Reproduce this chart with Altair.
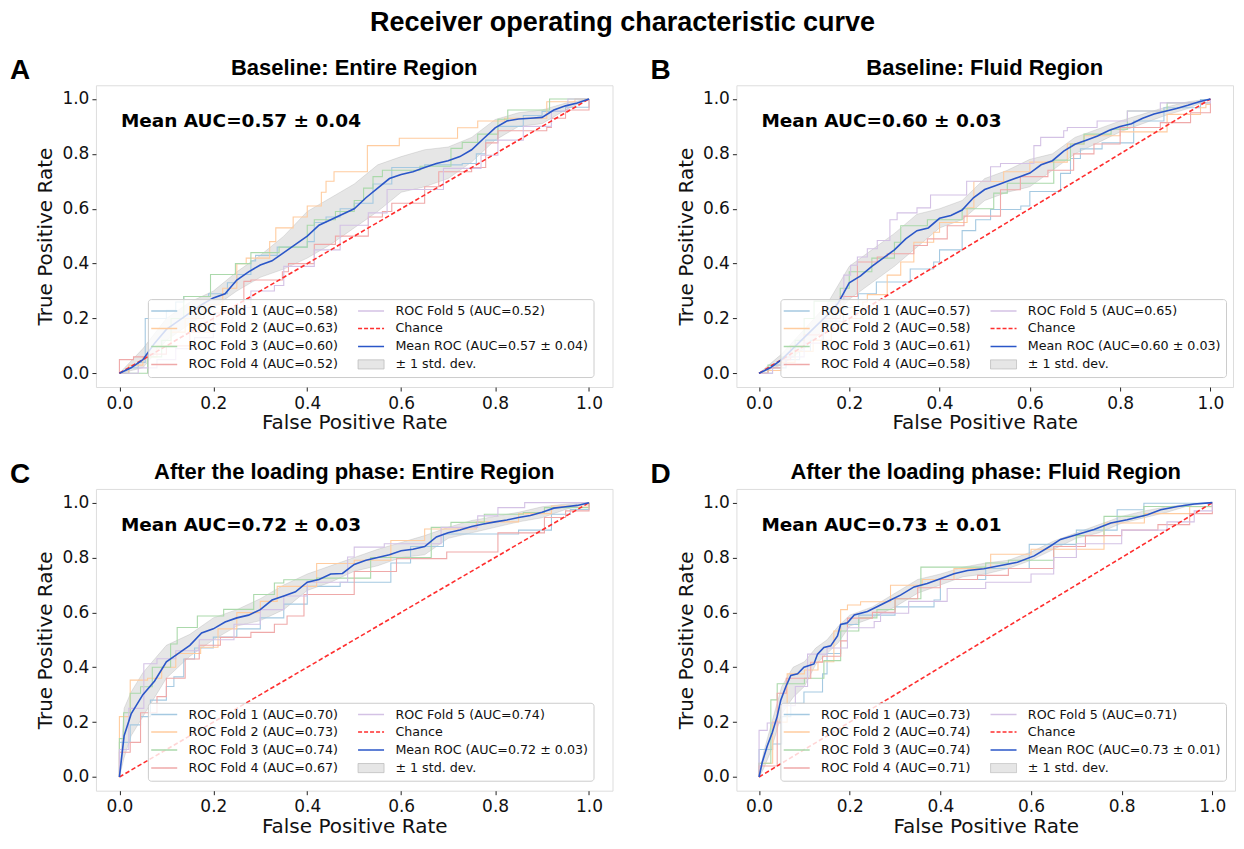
import altair as alt
import pandas as pd

# ------------------------------------------------------------------ data
TITLE = "Receiver operating characteristic curve"
LETTERS = ["A", "B", "C", "D"]
PANEL_TITLES = ["Baseline: Entire Region", "Baseline: Fluid Region",
                "After the loading phase: Entire Region", "After the loading phase: Fluid Region"]
FOLD_AUC = [[0.58, 0.63, 0.60, 0.52, 0.52],
            [0.57, 0.58, 0.61, 0.58, 0.65],
            [0.70, 0.73, 0.74, 0.67, 0.74],
            [0.73, 0.74, 0.74, 0.71, 0.71]]
MEAN_AUC = [0.57, 0.60, 0.72, 0.73]
STD_AUC = [0.04, 0.03, 0.03, 0.01]

# ---- Panel A folds (step corners: fpr, tpr)
A_F1_X = [0, 0.02, 0.04, 0.055, 0.055, 0.10, 0.12, 0.137, 0.19, 0.23, 0.25, 0.28, 0.29, 0.336, 0.40, 0.415, 0.44, 0.47, 0.50, 0.54, 0.58, 0.65, 0.73, 0.76, 0.78, 0.806, 0.86, 0.90, 0.95, 1.0]
A_F1_Y = [0, 0.02, 0.04, 0.08, 0.20, 0.23, 0.26, 0.28, 0.29, 0.33, 0.36, 0.41, 0.43, 0.46, 0.48, 0.55, 0.57, 0.60, 0.62, 0.69, 0.75, 0.76, 0.765, 0.80, 0.85, 0.90, 0.94, 0.955, 0.97, 1.0]
A_F2_X = [0, 0.02, 0.05, 0.08, 0.11, 0.14, 0.18, 0.22, 0.25, 0.27, 0.32, 0.333, 0.37, 0.40, 0.43, 0.44, 0.457, 0.528, 0.596, 0.72, 0.763, 0.82, 0.91, 0.97, 1.0]
A_F2_Y = [0, 0.03, 0.06, 0.10, 0.15, 0.20, 0.25, 0.31, 0.40, 0.42, 0.48, 0.53, 0.57, 0.61, 0.66, 0.70, 0.735, 0.83, 0.857, 0.895, 0.92, 0.93, 0.99, 1.0, 1.0]
A_F3_X = [0, 0.038, 0.06, 0.09, 0.11, 0.137, 0.194, 0.247, 0.28, 0.34, 0.40, 0.415, 0.46, 0.50, 0.52, 0.54, 0.56, 0.64, 0.706, 0.73, 0.763, 0.806, 0.827, 0.916, 1.0]
A_F3_Y = [0, 0.0, 0.06, 0.12, 0.20, 0.28, 0.36, 0.40, 0.44, 0.46, 0.54, 0.56, 0.59, 0.63, 0.675, 0.717, 0.74, 0.755, 0.82, 0.842, 0.872, 0.926, 0.96, 1.0, 1.0]
A_F4_X = [0, 0.0, 0.03, 0.06, 0.10, 0.15, 0.20, 0.265, 0.28, 0.347, 0.36, 0.415, 0.46, 0.53, 0.56, 0.58, 0.65, 0.68, 0.75, 0.78, 0.806, 0.91, 0.92, 0.95, 1.0]
A_F4_Y = [0, 0.05, 0.06, 0.07, 0.10, 0.15, 0.22, 0.335, 0.34, 0.37, 0.40, 0.47, 0.50, 0.57, 0.59, 0.62, 0.68, 0.735, 0.75, 0.84, 0.884, 0.896, 0.93, 0.96, 1.0]
A_F5_X = [0, 0.04, 0.08, 0.12, 0.16, 0.20, 0.24, 0.28, 0.33, 0.35, 0.415, 0.47, 0.53, 0.57, 0.69, 0.77, 0.806, 0.86, 0.92, 0.955, 1.0]
A_F5_Y = [0, 0.02, 0.05, 0.09, 0.13, 0.18, 0.24, 0.30, 0.32, 0.39, 0.45, 0.54, 0.585, 0.67, 0.747, 0.795, 0.85, 0.90, 0.956, 1.0, 1.0]

# ---- Panel B folds
B_F1_X = [0, 0.03, 0.06, 0.09, 0.114, 0.143, 0.187, 0.22, 0.26, 0.335, 0.387, 0.40, 0.45, 0.48, 0.513, 0.58, 0.60, 0.668, 0.69, 0.712, 0.76, 0.83, 0.897, 0.978, 1.0]
B_F1_Y = [0, 0.02, 0.05, 0.08, 0.12, 0.19, 0.24, 0.29, 0.333, 0.38, 0.406, 0.45, 0.52, 0.56, 0.597, 0.61, 0.663, 0.729, 0.783, 0.818, 0.84, 0.92, 0.968, 0.998, 1.0]
B_F2_X = [0, 0.02, 0.05, 0.08, 0.12, 0.16, 0.20, 0.23, 0.24, 0.284, 0.314, 0.343, 0.387, 0.40, 0.461, 0.476, 0.542, 0.60, 0.683, 0.72, 0.80, 0.904, 0.978, 0.99, 1.0]
B_F2_Y = [0, 0.01, 0.04, 0.08, 0.12, 0.16, 0.20, 0.26, 0.287, 0.358, 0.406, 0.478, 0.514, 0.55, 0.603, 0.699, 0.735, 0.77, 0.836, 0.866, 0.88, 0.944, 0.968, 0.98, 1.0]
B_F3_X = [0, 0.02, 0.05, 0.08, 0.10, 0.122, 0.18, 0.20, 0.25, 0.30, 0.314, 0.373, 0.45, 0.52, 0.55, 0.653, 0.69, 0.72, 0.78, 0.816, 0.904, 1.0]
B_F3_Y = [0, 0.03, 0.06, 0.12, 0.20, 0.263, 0.31, 0.37, 0.42, 0.478, 0.538, 0.56, 0.60, 0.657, 0.693, 0.777, 0.836, 0.872, 0.89, 0.956, 0.986, 1.0]
B_F4_X = [0, 0.02, 0.05, 0.07, 0.10, 0.14, 0.18, 0.218, 0.262, 0.284, 0.343, 0.373, 0.417, 0.454, 0.535, 0.579, 0.64, 0.697, 0.742, 0.80, 0.889, 0.956, 1.0]
B_F4_Y = [0, 0.02, 0.05, 0.10, 0.14, 0.20, 0.28, 0.406, 0.424, 0.436, 0.466, 0.49, 0.538, 0.573, 0.669, 0.717, 0.74, 0.80, 0.836, 0.896, 0.914, 0.95, 1.0]
B_F5_X = [0, 0.03, 0.06, 0.10, 0.14, 0.17, 0.188, 0.203, 0.218, 0.24, 0.262, 0.29, 0.306, 0.35, 0.38, 0.46, 0.513, 0.535, 0.609, 0.624, 0.675, 0.683, 0.749, 0.816, 0.889, 1.0]
B_F5_Y = [0, 0.03, 0.06, 0.11, 0.18, 0.26, 0.358, 0.394, 0.424, 0.454, 0.484, 0.56, 0.585, 0.603, 0.65, 0.70, 0.753, 0.765, 0.83, 0.86, 0.884, 0.896, 0.92, 0.956, 0.986, 1.0]

# ---- Panel C folds
C_F1_X = [0, 0, 0.023, 0.045, 0.066, 0.10, 0.116, 0.137, 0.16, 0.20, 0.25, 0.30, 0.35, 0.40, 0.47, 0.578, 0.62, 0.69, 0.85, 0.92, 0.96, 1.0]
C_F1_Y = [0, 0.126, 0.19, 0.22, 0.28, 0.33, 0.365, 0.43, 0.47, 0.51, 0.54, 0.58, 0.63, 0.695, 0.71, 0.78, 0.84, 0.886, 0.90, 0.958, 0.975, 1.0]
C_F2_X = [0, 0, 0.016, 0.023, 0.06, 0.09, 0.12, 0.173, 0.21, 0.25, 0.30, 0.336, 0.42, 0.50, 0.578, 0.65, 0.76, 0.85, 0.92, 1.0]
C_F2_Y = [0, 0.22, 0.22, 0.353, 0.36, 0.40, 0.45, 0.473, 0.54, 0.599, 0.64, 0.695, 0.778, 0.79, 0.862, 0.904, 0.93, 0.96, 0.988, 1.0]
C_F3_X = [0, 0, 0.009, 0.023, 0.045, 0.07, 0.109, 0.123, 0.166, 0.222, 0.286, 0.33, 0.35, 0.42, 0.535, 0.664, 0.706, 0.777, 0.86, 0.905, 1.0]
C_F3_Y = [0, 0.14, 0.234, 0.305, 0.329, 0.40, 0.485, 0.545, 0.587, 0.611, 0.665, 0.707, 0.719, 0.725, 0.80, 0.91, 0.928, 0.958, 0.964, 0.982, 1.0]
C_F4_X = [0, 0, 0.016, 0.023, 0.045, 0.08, 0.10, 0.14, 0.17, 0.215, 0.28, 0.33, 0.357, 0.393, 0.50, 0.59, 0.697, 0.806, 0.905, 0.95, 1.0]
C_F4_Y = [0, 0.09, 0.09, 0.126, 0.234, 0.293, 0.36, 0.43, 0.48, 0.509, 0.527, 0.557, 0.587, 0.665, 0.749, 0.796, 0.82, 0.89, 0.946, 0.97, 1.0]
C_F5_X = [0, 0, 0.02, 0.052, 0.08, 0.12, 0.17, 0.244, 0.30, 0.35, 0.40, 0.486, 0.50, 0.564, 0.685, 0.763, 0.806, 0.863, 1.0]
C_F5_Y = [0, 0.10, 0.25, 0.413, 0.431, 0.46, 0.50, 0.557, 0.61, 0.66, 0.71, 0.802, 0.838, 0.85, 0.91, 0.952, 0.982, 1.0, 1.0]

# ---- Panel D folds
D_F1_X = [0, 0, 0.03, 0.05, 0.07, 0.099, 0.14, 0.15, 0.18, 0.22, 0.30, 0.386, 0.40, 0.50, 0.596, 0.70, 0.79, 0.849, 1.0]
D_F1_Y = [0, 0.10, 0.12, 0.22, 0.269, 0.31, 0.376, 0.45, 0.556, 0.59, 0.62, 0.645, 0.72, 0.76, 0.848, 0.90, 0.974, 0.998, 1.0]
D_F2_X = [0, 0, 0.03, 0.062, 0.10, 0.13, 0.165, 0.18, 0.195, 0.224, 0.29, 0.36, 0.43, 0.511, 0.60, 0.761, 0.85, 0.95, 1.0]
D_F2_Y = [0, 0.05, 0.20, 0.376, 0.39, 0.42, 0.532, 0.61, 0.627, 0.639, 0.699, 0.72, 0.76, 0.812, 0.83, 0.926, 0.96, 0.985, 1.0]
D_F3_X = [0, 0, 0.026, 0.04, 0.10, 0.143, 0.18, 0.22, 0.26, 0.30, 0.357, 0.50, 0.55, 0.65, 0.70, 0.761, 0.849, 1.0]
D_F3_Y = [0, 0.05, 0.281, 0.34, 0.36, 0.424, 0.532, 0.58, 0.61, 0.65, 0.765, 0.78, 0.79, 0.84, 0.88, 0.95, 0.986, 1.0]
D_F4_X = [0, 0, 0.04, 0.06, 0.114, 0.14, 0.18, 0.195, 0.25, 0.30, 0.35, 0.40, 0.482, 0.55, 0.65, 0.72, 0.80, 0.88, 0.95, 1.0]
D_F4_Y = [0, 0.04, 0.305, 0.36, 0.418, 0.44, 0.496, 0.579, 0.60, 0.65, 0.69, 0.72, 0.735, 0.76, 0.84, 0.88, 0.90, 0.92, 0.96, 1.0]
D_F5_X = [0, 0, 0.018, 0.05, 0.08, 0.107, 0.15, 0.195, 0.254, 0.268, 0.33, 0.415, 0.50, 0.60, 0.65, 0.70, 0.80, 0.90, 0.96, 1.0]
D_F5_Y = [0, 0.17, 0.197, 0.26, 0.33, 0.448, 0.47, 0.544, 0.567, 0.597, 0.64, 0.687, 0.71, 0.74, 0.80, 0.85, 0.90, 0.93, 0.97, 1.0]

# ---- mean ROC curves
AB_MEAN_X = [0.0, 0.025, 0.05, 0.075, 0.1, 0.125, 0.15, 0.175, 0.2, 0.225, 0.25, 0.275, 0.3, 0.325, 0.35, 0.375, 0.4,
             0.425, 0.45, 0.475, 0.5, 0.525, 0.55, 0.575, 0.6, 0.625, 0.65, 0.675, 0.7, 0.725, 0.75, 0.775, 0.8,
             0.825, 0.85, 0.875, 0.9, 0.925, 0.95, 0.975, 1.0]
A_MEAN_Y = [0, 0.02, 0.05, 0.11, 0.16, 0.19, 0.22, 0.25, 0.275, 0.29, 0.34, 0.37, 0.395, 0.41, 0.44, 0.47, 0.50,
            0.54, 0.56, 0.58, 0.60, 0.64, 0.675, 0.71, 0.725, 0.735, 0.75, 0.765, 0.775, 0.79, 0.815, 0.855, 0.895,
            0.92, 0.927, 0.93, 0.933, 0.96, 0.975, 0.985, 1.0]
B_MEAN_Y = [0, 0.02, 0.05, 0.09, 0.13, 0.17, 0.21, 0.255, 0.33, 0.355, 0.39, 0.42, 0.45, 0.49, 0.52, 0.53, 0.565,
            0.575, 0.595, 0.64, 0.67, 0.685, 0.70, 0.715, 0.73, 0.76, 0.775, 0.81, 0.835, 0.85, 0.865, 0.885, 0.90,
            0.91, 0.93, 0.945, 0.955, 0.965, 0.977, 0.99, 1.0]
C_MEAN_X = [0.0, 0.01, 0.025, 0.05, 0.075, 0.1, 0.125, 0.15, 0.175, 0.2, 0.225, 0.25, 0.275, 0.3, 0.325, 0.35, 0.375,
            0.4, 0.425, 0.45, 0.475, 0.5, 0.525, 0.55, 0.575, 0.6, 0.625, 0.65, 0.675, 0.7, 0.725, 0.75, 0.775, 0.8,
            0.825, 0.85, 0.875, 0.9, 0.925, 0.95, 0.975, 1.0]
C_MEAN_Y = [0, 0.15, 0.23, 0.30, 0.35, 0.42, 0.45, 0.48, 0.525, 0.54, 0.565, 0.58, 0.59, 0.61, 0.645, 0.66, 0.675,
            0.71, 0.72, 0.74, 0.742, 0.775, 0.79, 0.80, 0.81, 0.825, 0.83, 0.84, 0.875, 0.89, 0.90, 0.913, 0.922, 0.93,
            0.937, 0.946, 0.953, 0.965, 0.98, 0.985, 0.99, 1.0]
D_MEAN_X = [0, 0.007, 0.018, 0.029, 0.04, 0.048, 0.059, 0.07, 0.085, 0.099, 0.121, 0.129, 0.143, 0.158, 0.173, 0.18,
            0.195, 0.21, 0.239, 0.268, 0.29, 0.312, 0.342, 0.371, 0.40, 0.43, 0.46, 0.496, 0.533, 0.57, 0.607, 0.643,
            0.665, 0.702, 0.739, 0.776, 0.812, 0.857, 0.886, 0.923, 0.96, 1.0]
D_MEAN_Y = [0, 0.054, 0.113, 0.161, 0.221, 0.281, 0.329, 0.37, 0.376, 0.40, 0.412, 0.448, 0.472, 0.478, 0.514, 0.556,
            0.562, 0.591, 0.603, 0.627, 0.645, 0.663, 0.693, 0.705, 0.723, 0.741, 0.753, 0.759, 0.771, 0.783, 0.806,
            0.842, 0.866, 0.884, 0.902, 0.926, 0.938, 0.956, 0.974, 0.986, 0.995, 1.0]

# ---- +/- 1 std. dev. bands
AB_BAND_X = [0.0, 0.05, 0.1, 0.15, 0.2, 0.25, 0.3, 0.35, 0.4, 0.45, 0.5, 0.55, 0.6, 0.65, 0.7, 0.75, 0.8, 0.85, 0.9, 0.95, 1.0]
A_BAND_LO = [0, 0.02, 0.12, 0.18, 0.24, 0.30, 0.35, 0.38, 0.42, 0.47, 0.53, 0.59, 0.66, 0.68, 0.71, 0.77, 0.85, 0.90, 0.91, 0.96, 1.0]
A_BAND_HI = [0, 0.09, 0.20, 0.26, 0.30, 0.37, 0.43, 0.50, 0.59, 0.64, 0.69, 0.76, 0.79, 0.815, 0.825, 0.86, 0.925, 0.95, 0.96, 0.985, 1.0]
B_BAND_LO = [0, 0.03, 0.09, 0.17, 0.27, 0.33, 0.39, 0.46, 0.53, 0.56, 0.63, 0.66, 0.68, 0.74, 0.80, 0.84, 0.88, 0.91, 0.94, 0.965, 1.0]
B_BAND_HI = [0, 0.07, 0.16, 0.25, 0.39, 0.45, 0.51, 0.58, 0.60, 0.63, 0.71, 0.74, 0.78, 0.80, 0.86, 0.89, 0.92, 0.945, 0.97, 0.99, 1.0]
C_BAND_X = [0.0, 0.01, 0.025, 0.05, 0.1, 0.15, 0.2, 0.25, 0.3, 0.35, 0.4, 0.45, 0.5, 0.55, 0.6, 0.65, 0.7, 0.75, 0.8, 0.85, 0.9, 0.95, 1.0]
C_BAND_LO = [0, 0.07, 0.15, 0.22, 0.36, 0.44, 0.50, 0.55, 0.57, 0.61, 0.68, 0.71, 0.75, 0.77, 0.80, 0.81, 0.87, 0.89, 0.91, 0.93, 0.945, 0.975, 1.0]
C_BAND_HI = [0, 0.25, 0.31, 0.38, 0.48, 0.52, 0.58, 0.61, 0.65, 0.70, 0.74, 0.77, 0.80, 0.83, 0.855, 0.88, 0.91, 0.935, 0.95, 0.965, 0.985, 0.995, 1.0]
D_BAND_X = [0.0, 0.01, 0.025, 0.05, 0.075, 0.1, 0.125, 0.15, 0.175, 0.2, 0.25, 0.3, 0.35, 0.4, 0.45, 0.5, 0.55, 0.6,
            0.65, 0.7, 0.75, 0.8, 0.85, 0.9, 0.95, 1.0]
D_BAND_LO = [0, 0.03, 0.09, 0.23, 0.29, 0.33, 0.41, 0.45, 0.49, 0.55, 0.58, 0.62, 0.67, 0.70, 0.73, 0.74, 0.76, 0.79,
             0.83, 0.87, 0.89, 0.925, 0.945, 0.965, 0.99, 1.0]
D_BAND_HI = [0, 0.09, 0.18, 0.33, 0.40, 0.42, 0.47, 0.50, 0.55, 0.59, 0.62, 0.67, 0.72, 0.74, 0.765, 0.78, 0.79, 0.82,
             0.86, 0.89, 0.92, 0.95, 0.97, 0.985, 0.995, 1.0]

CHANCE_X = [0.0, 1.0]
CHANCE_Y = [0.0, 1.0]

PANELS = [
    dict(folds=[(A_F1_X, A_F1_Y), (A_F2_X, A_F2_Y), (A_F3_X, A_F3_Y), (A_F4_X, A_F4_Y), (A_F5_X, A_F5_Y)],
         mean=(AB_MEAN_X, A_MEAN_Y), band=(AB_BAND_X, A_BAND_LO, A_BAND_HI), width=517, legend_x=52),
    dict(folds=[(B_F1_X, B_F1_Y), (B_F2_X, B_F2_Y), (B_F3_X, B_F3_Y), (B_F4_X, B_F4_Y), (B_F5_X, B_F5_Y)],
         mean=(AB_MEAN_X, B_MEAN_Y), band=(AB_BAND_X, B_BAND_LO, B_BAND_HI), width=497, legend_x=44),
    dict(folds=[(C_F1_X, C_F1_Y), (C_F2_X, C_F2_Y), (C_F3_X, C_F3_Y), (C_F4_X, C_F4_Y), (C_F5_X, C_F5_Y)],
         mean=(C_MEAN_X, C_MEAN_Y), band=(C_BAND_X, C_BAND_LO, C_BAND_HI), width=517, legend_x=52),
    dict(folds=[(D_F1_X, D_F1_Y), (D_F2_X, D_F2_Y), (D_F3_X, D_F3_Y), (D_F4_X, D_F4_Y), (D_F5_X, D_F5_Y)],
         mean=(D_MEAN_X, D_MEAN_Y), band=(D_BAND_X, D_BAND_LO, D_BAND_HI), width=499, legend_x=44),
]

FOLD_COLORS = ["#a5c9e1", "#ffcc9f", "#abd9ab", "#efa9a9", "#d4c2e5"]
CHANCE_COLOR = "#ff2e2e"
MEAN_COLOR = "#2a56c8"
STD_COLOR = "#bdbdbd"
STD_LABEL = "± 1 std. dev."
CHANCE_LABEL = "Chance"

PANEL_H = 302
FONT = "DejaVu Sans"
TFONT = "Liberation Sans"

IS_STD = "datum.value === '± 1 std. dev.'"


def make_panel(i):
    p = PANELS[i]
    fold_labels = [f"ROC Fold {k + 1} (AUC={a:.2f})" for k, a in enumerate(FOLD_AUC[i])]
    mean_label = f"Mean ROC (AUC={MEAN_AUC[i]:.2f} ± {STD_AUC[i]:.2f})"

    rows = []
    for k, (xs, ys) in enumerate(p["folds"]):
        for j, (xv, yv) in enumerate(zip(xs, ys, strict=True)):
            rows.append({"fpr": xv, "tpr": yv, "series": fold_labels[k], "idx": j})
    folds_df = pd.DataFrame(rows)
    mx, my = p["mean"]
    mean_df = pd.DataFrame({"fpr": mx, "tpr": my, "series": mean_label, "idx": list(range(len(mx)))})
    bx, blo, bhi = p["band"]
    band_df = pd.DataFrame({"fpr": bx, "lo": blo, "hi": bhi})
    chance_df = pd.DataFrame({"fpr": CHANCE_X, "tpr": CHANCE_Y, "series": CHANCE_LABEL})

    domain = fold_labels + [CHANCE_LABEL, mean_label, STD_LABEL]
    rng = FOLD_COLORS + [CHANCE_COLOR, MEAN_COLOR, STD_COLOR]

    legend = alt.Legend(
        title=None, orient="none", legendX=p["legend_x"], legendY=PANEL_H - 88, columns=2,
        labelFont=FONT, labelFontSize=12.7, labelColor="#111", labelLimit=400,
        symbolSize=169, symbolOffset=5, labelOffset=18,
        symbolType={"expr": f"{IS_STD} ? 'M-2,-0.7H2V0.7H-2Z' : 'M-2,0H2'"},
        symbolFillColor={"expr": f"{IS_STD} ? '#e6e6e6' : 'transparent'"},
        symbolDash={"expr": "datum.value === 'Chance' ? [4, 2] : [1, 0]"},
        symbolStrokeWidth={"expr": f"{IS_STD} ? 0.8 : 1.5"},
        rowPadding=4, columnPadding=16, padding=5, gridAlign="each",
        fillColor="rgba(255,255,255,0.8)", strokeColor="#cccccc", cornerRadius=3,
    )

    xscale = alt.Scale(domain=[-0.05, 1.05], nice=False, zero=False)
    yscale = alt.Scale(domain=[-0.05, 1.05], nice=False, zero=False)
    xaxis = alt.Axis(title="False Positive Rate", values=[0, 0.2, 0.4, 0.6, 0.8, 1.0], format=".1f",
                     grid=False, domain=False, tickSize=4, tickColor="#222", labelPadding=4,
                     labelFont=FONT, labelFontSize=17, labelColor="#111",
                     titleFont=FONT, titleFontSize=20, titleFontWeight="normal", titleColor="#111",
                     titlePadding=2)
    yaxis = alt.Axis(title="True Positive Rate", values=[0, 0.2, 0.4, 0.6, 0.8, 1.0], format=".1f",
                     grid=False, domain=False, tickSize=4, tickColor="#222", labelPadding=3,
                     labelFont=FONT, labelFontSize=17, labelColor="#111",
                     titleFont=FONT, titleFontSize=20, titleFontWeight="normal", titleColor="#111",
                     titlePadding=6)
    X = alt.X("fpr:Q", scale=xscale, axis=xaxis)
    Y = alt.Y("tpr:Q", scale=yscale, axis=yaxis)
    color = alt.Color("series:N", scale=alt.Scale(domain=domain, range=rng), legend=legend)

    band = alt.Chart(band_df).mark_area(fill="#808080", fillOpacity=0.2, stroke="#808080",
                                        strokeOpacity=0.2, strokeWidth=1).encode(
        x=X, y=alt.Y("hi:Q", scale=yscale, axis=yaxis), y2="lo:Q")
    folds = alt.Chart(folds_df).mark_line(interpolate="step-after", strokeWidth=1.1).encode(
        x=X, y=Y, color=color, detail="series:N", order="idx:Q")
    chance = alt.Chart(chance_df).mark_line(strokeDash=[4.5, 2.5], strokeWidth=1.6).encode(
        x=X, y=Y, color=color)
    mean = alt.Chart(mean_df).mark_line(strokeWidth=1.6).encode(
        x=X, y=Y, color=color, order="idx:Q")

    def label(text, **kw):
        return alt.Chart(pd.DataFrame({"t": [text]})).mark_text(
            baseline="alphabetic", color="black", **kw).encode(text="t:N")

    auc_text = label(f"Mean AUC={MEAN_AUC[i]:.2f} ± {STD_AUC[i]:.2f}", align="left", font=FONT,
                     fontSize=18.5, fontWeight="bold").encode(x=alt.value(25), y=alt.value(42))
    letter = label(LETTERS[i], align="left", font=TFONT, fontSize=28, fontWeight="bold").encode(
        x=alt.value(-86), y=alt.value(-6))
    ptitle = label(PANEL_TITLES[i], align="center", font=TFONT, fontSize=22, fontWeight="bold").encode(
        x=alt.value(p["width"] / 2), y=alt.value(-10))

    return alt.layer(band, folds, chance, mean, auc_text, letter, ptitle).properties(
        width=p["width"], height=PANEL_H)


chart = alt.concat(*[make_panel(i) for i in range(4)], columns=2,
                   spacing={"row": 26, "column": 36}).resolve_scale(
    color="independent").properties(
    title=alt.TitleParams(TITLE, font=TFONT, fontSize=27, fontWeight="bold", anchor="middle",
                          offset=20, color="black"),
    padding={"left": 1, "top": 0, "right": 0, "bottom": 0},
).configure_view(stroke="#1a1a1a", strokeWidth=1.2).configure(background="white")

chart.save("out.html", embed_options={"renderer": "svg", "actions": False})
